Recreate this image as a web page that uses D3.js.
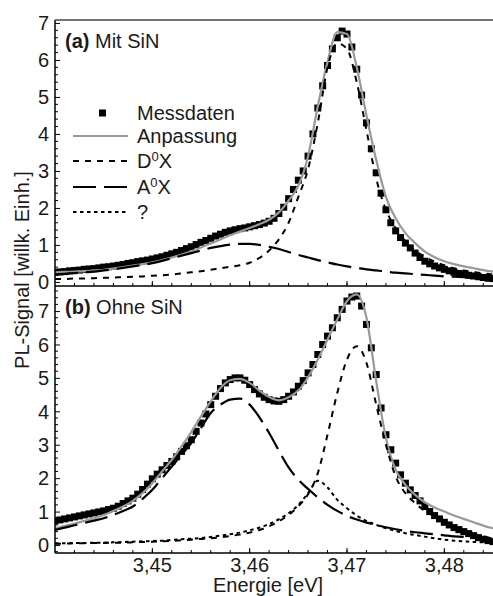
<!DOCTYPE html>
<html><head><meta charset="utf-8">
<script src="https://cdn.jsdelivr.net/npm/d3@7"></script>
<style>body{margin:0;background:#fff}svg{display:block}text{font-family:"Liberation Sans",Arial,sans-serif;fill:#1a1a1a}</style>
</head><body><svg id="c" width="493" height="596"></svg>
<script>
// ---------- DATA ----------
// measured data grid: 3.4400 .. 3.4850 step 0.0005
const dataE0 = 3.44, dataStep = 0.0005;
const topData = [0.26,0.27,0.28,0.30,0.31,0.32,0.34,0.35,0.36,0.38,0.40,0.41,0.43,0.45,0.47,0.50,0.52,0.55,0.57,0.59,
 0.62,0.65,0.68,0.72,0.76,0.80,0.85,0.90,0.95,1.01,1.07,1.12,1.18,1.24,1.29,1.34,1.38,1.41,1.44,1.46,
 1.49,1.52,1.55,1.59,1.64,1.72,1.85,2.02,2.25,2.50,2.75,3.00,3.40,4.00,4.70,5.30,5.85,6.30,6.60,6.78,
 6.70,6.35,5.75,5.05,4.30,3.60,2.95,2.40,1.95,1.60,1.38,1.20,1.05,0.92,0.78,0.66,0.56,0.49,0.43,0.38,
 0.34,0.30,0.26,0.23,0.20,0.18,0.16,0.14,0.12,0.10,0.09];
const botData = [0.72,0.75,0.78,0.81,0.84,0.87,0.90,0.93,0.96,0.99,1.02,1.06,1.10,1.16,1.24,1.32,1.40,1.52,1.66,1.82,
 1.98,2.12,2.25,2.38,2.50,2.64,2.80,2.97,3.15,3.40,3.65,3.92,4.20,4.45,4.68,4.85,4.95,5.00,5.00,4.93,
 4.80,4.65,4.52,4.42,4.35,4.31,4.30,4.35,4.45,4.58,4.75,4.92,5.15,5.40,5.70,6.00,6.25,6.50,6.80,7.05,
 7.30,7.42,7.45,7.15,6.60,5.90,5.10,4.10,3.30,2.85,2.45,2.10,1.85,1.65,1.48,1.32,1.15,1.00,0.88,0.78,
 0.68,0.60,0.52,0.46,0.40,0.34,0.28,0.22,0.17,0.13,0.10];
// curve grid: 3.440 .. 3.485 step 0.001
const curveE0 = 3.44, curveStep = 0.001;
const topFit = [0.26,0.27,0.28,0.29,0.31,0.33,0.36,0.40,0.44,0.48,0.53,0.59,0.66,0.74,0.83,0.93,1.04,1.15,1.26,1.36,
 1.46,1.56,1.68,1.88,2.20,2.60,3.40,4.75,5.95,6.75,6.70,5.80,4.50,3.30,2.30,1.72,1.32,1.05,0.82,0.67,
 0.56,0.48,0.42,0.37,0.32,0.28];
const topD0X = [0.08,0.08,0.09,0.09,0.10,0.11,0.12,0.13,0.14,0.15,0.17,0.18,0.20,0.23,0.26,0.29,0.33,0.37,0.41,0.45,
 0.52,0.65,0.85,1.15,1.60,2.30,3.05,4.30,5.80,6.45,6.30,5.40,4.10,2.80,1.95,1.45,1.10,0.85,0.68,0.55,
 0.45,0.37,0.31,0.27,0.23,0.20];
const topA0X = [0.20,0.22,0.24,0.26,0.28,0.31,0.34,0.38,0.42,0.46,0.51,0.57,0.64,0.71,0.78,0.85,0.92,0.97,1.01,1.03,
 1.03,1.00,0.95,0.89,0.81,0.73,0.66,0.59,0.53,0.47,0.42,0.38,0.34,0.31,0.28,0.25,0.23,0.21,0.19,0.17,
 0.15,0.14,0.13,0.12,0.11,0.10];
const botFit = [0.50,0.57,0.64,0.72,0.80,0.90,1.02,1.15,1.32,1.55,1.85,2.20,2.55,2.95,3.38,3.85,4.30,4.70,4.93,4.97,
 4.85,4.62,4.43,4.33,4.42,4.62,5.02,5.55,6.15,6.75,7.30,7.50,6.80,4.90,3.20,2.25,1.80,1.50,1.28,1.12,
 1.00,0.88,0.78,0.68,0.58,0.50];
const botD0X = [0.04,0.04,0.05,0.05,0.06,0.06,0.07,0.07,0.08,0.09,0.10,0.11,0.12,0.14,0.16,0.18,0.20,0.23,0.27,0.31,
 0.37,0.45,0.56,0.71,0.90,1.16,1.52,2.15,3.30,4.55,5.55,5.95,5.45,4.20,3.00,2.05,1.55,1.25,1.02,0.85,
 0.70,0.56,0.44,0.34,0.26,0.20];
const botA0X = [0.45,0.52,0.59,0.66,0.73,0.80,0.90,1.02,1.15,1.38,1.65,2.00,2.35,2.70,3.05,3.50,3.95,4.20,4.35,4.38,
 4.20,3.82,3.35,2.82,2.32,1.95,1.68,1.42,1.20,1.02,0.87,0.76,0.67,0.60,0.53,0.47,0.42,0.38,0.35,0.32,
 0.29,0.26,0.24];
const botQ = [0.05,0.05,0.06,0.06,0.07,0.07,0.08,0.09,0.10,0.11,0.12,0.13,0.15,0.17,0.19,0.21,0.24,0.28,0.32,0.37,
 0.44,0.52,0.63,0.77,0.95,1.20,1.55,1.92,1.72,1.35,1.10,0.88,0.72,0.60,0.50,0.42,0.35,0.30,0.25,0.20,
 0.16,0.13,0.11,0.09,0.08,0.07];
const xTicks = [3.45, 3.46, 3.47, 3.48];
const xTickLabels = ["3,45","3,46","3,47","3,48"];
const yTicks = [0,1,2,3,4,5,6,7];
const legendLabels = ["Messdaten","Anpassung","D","A","?"];
const panelTitles = [["(a)"," Mit SiN"],["(b)"," Ohne SiN"]];
const xTitle = "Energie [eV]";
const yTitle = "PL-Signal [willk. Einh.]";

// ---------- CHART ----------
const svg = d3.select("#c");
const L = 55, R = 493;
const x = d3.scaleLinear().domain([3.44, 3.485]).range([L, R]);
const panels = [
  {y: d3.scaleLinear().domain([-0.11, 7.08]).range([286, 20]), top: 20, bot: 286,
   data: topData, fit: topFit, d0x: topD0X, a0x: topA0X, q: null},
  {y: d3.scaleLinear().domain([-0.24, 7.75]).range([553, 286]), top: 286, bot: 553,
   data: botData, fit: botFit, d0x: botD0X, a0x: botA0X, q: botQ}
];
const toPts = (arr, e0, st) => arr.map((v, i) => [e0 + i * st, v]);
const styles = {
  fit: {stroke: "#999", w: 2.2, dash: null},
  d0x: {stroke: "#000", w: 2, dash: "6,6"},
  a0x: {stroke: "#000", w: 2.2, dash: "23,8"},
  q:   {stroke: "#000", w: 2, dash: "3.5,3.5"}
};

panels.forEach((p, pi) => {
  const id = "clip" + pi;
  svg.append("clipPath").attr("id", id).append("rect")
    .attr("x", L).attr("y", p.top).attr("width", R - L).attr("height", p.bot - p.top);
  const g = svg.append("g").attr("clip-path", `url(#${id})`);
  // data squares
  const s = 7;
  g.selectAll("rect.d").data(toPts(p.data, dataE0, dataStep)).join("rect")
    .attr("x", d => x(d[0]) - s / 2).attr("y", d => p.y(d[1]) - s / 2)
    .attr("width", s).attr("height", s).attr("fill", "#000");
  const line = d3.line().x(d => x(d[0])).y(d => p.y(d[1])).curve(d3.curveMonotoneX);
  [["fit", p.fit], ["d0x", p.d0x], ["a0x", p.a0x], ["q", p.q]].forEach(([k, arr]) => {
    if (!arr) return;
    const st = styles[k];
    g.append("path").attr("d", line(toPts(arr, curveE0, curveStep)))
      .attr("fill", "none").attr("stroke", st.stroke).attr("stroke-width", st.w)
      .attr("stroke-dasharray", st.dash);
  });
  // y axis
  const yAx = d3.axisRight(p.y).tickValues(yTicks).tickSize(5).tickFormat("");
  svg.append("g").attr("transform", `translate(${L},0)`).call(yAx)
    .call(a => a.select(".domain").remove());
  const minorY = d3.range(-0.2, 8, 0.2).filter(v => v >= p.y.domain()[0] && v <= p.y.domain()[1] && Math.abs(v - Math.round(v)) > 1e-6);
  svg.append("g").selectAll("line").data(minorY).join("line")
    .attr("x1", L).attr("x2", L + 3).attr("y1", d => p.y(d)).attr("y2", d => p.y(d))
    .attr("stroke", "#000").attr("stroke-width", 1);
  svg.append("g").selectAll("text").data(yTicks).join("text")
    .attr("x", L - 6).attr("y", d => p.y(d)).attr("dy", "0.36em")
    .attr("text-anchor", "end").attr("font-size", 20).text(d => d);
  svg.append("line").attr("x1", L).attr("x2", L).attr("y1", p.top).attr("y2", p.bot)
    .attr("stroke", "#000").attr("stroke-width", 1.5);
  // x axis at bottom of panel
  svg.append("line").attr("x1", L).attr("x2", R).attr("y1", p.bot).attr("y2", p.bot)
    .attr("stroke", "#000").attr("stroke-width", 1.5);
  const minorX = d3.range(3.442, 3.4851, 0.002);
  svg.append("g").selectAll("line").data(minorX).join("line")
    .attr("x1", d => x(d)).attr("x2", d => x(d)).attr("y1", p.bot).attr("y2", p.bot - 3)
    .attr("stroke", "#000").attr("stroke-width", 1);
  svg.append("g").selectAll("line").data(xTicks).join("line")
    .attr("x1", d => x(d)).attr("x2", d => x(d)).attr("y1", p.bot).attr("y2", p.bot - 5)
    .attr("stroke", "#000").attr("stroke-width", 1);
  // panel title
  const t = svg.append("text").attr("x", 65).attr("y", p.top + 28).attr("font-size", 20);
  t.append("tspan").attr("font-weight", "bold").text(panelTitles[pi][0]);
  t.append("tspan").text(panelTitles[pi][1]);
});
// top frame line
svg.append("line").attr("x1", L).attr("x2", R).attr("y1", 20).attr("y2", 20)
  .attr("stroke", "#444").attr("stroke-width", 1.5);
// x tick labels
svg.append("g").selectAll("text").data(xTicks).join("text")
  .attr("x", d => x(d)).attr("y", 572).attr("text-anchor", "middle").attr("font-size", 20)
  .text((d, i) => xTickLabels[i]);
svg.append("text").attr("x", 268).attr("y", 592).attr("text-anchor", "middle")
  .attr("font-size", 20).text(xTitle);
svg.append("text").attr("transform", "translate(29,270) rotate(-90)")
  .attr("text-anchor", "middle").attr("font-size", 20).text(yTitle);

// legend
const lg = svg.append("g");
const rows = [113, 136, 161, 187, 212];
lg.append("rect").attr("x", 99).attr("y", rows[0] - 3.5).attr("width", 7).attr("height", 7).attr("fill", "#000");
[["fit", 1], ["d0x", 2], ["a0x", 3], ["q", 4]].forEach(([k, r]) => {
  const st = styles[k];
  lg.append("line").attr("x1", 73).attr("x2", 128).attr("y1", rows[r]).attr("y2", rows[r])
    .attr("stroke", st.stroke).attr("stroke-width", st.w).attr("stroke-dasharray", st.dash);
});
legendLabels.forEach((lab, i) => {
  const t = lg.append("text").attr("x", 137).attr("y", rows[i]).attr("dy", "0.36em").attr("font-size", 20);
  if (lab === "D" || lab === "A") {
    t.append("tspan").text(lab);
    t.append("tspan").attr("font-size", 13).attr("dy", "-0.55em").text("0");
    t.append("tspan").attr("dy", "0.35em").text("X");
  } else t.text(lab);
});
</script></body></html>
